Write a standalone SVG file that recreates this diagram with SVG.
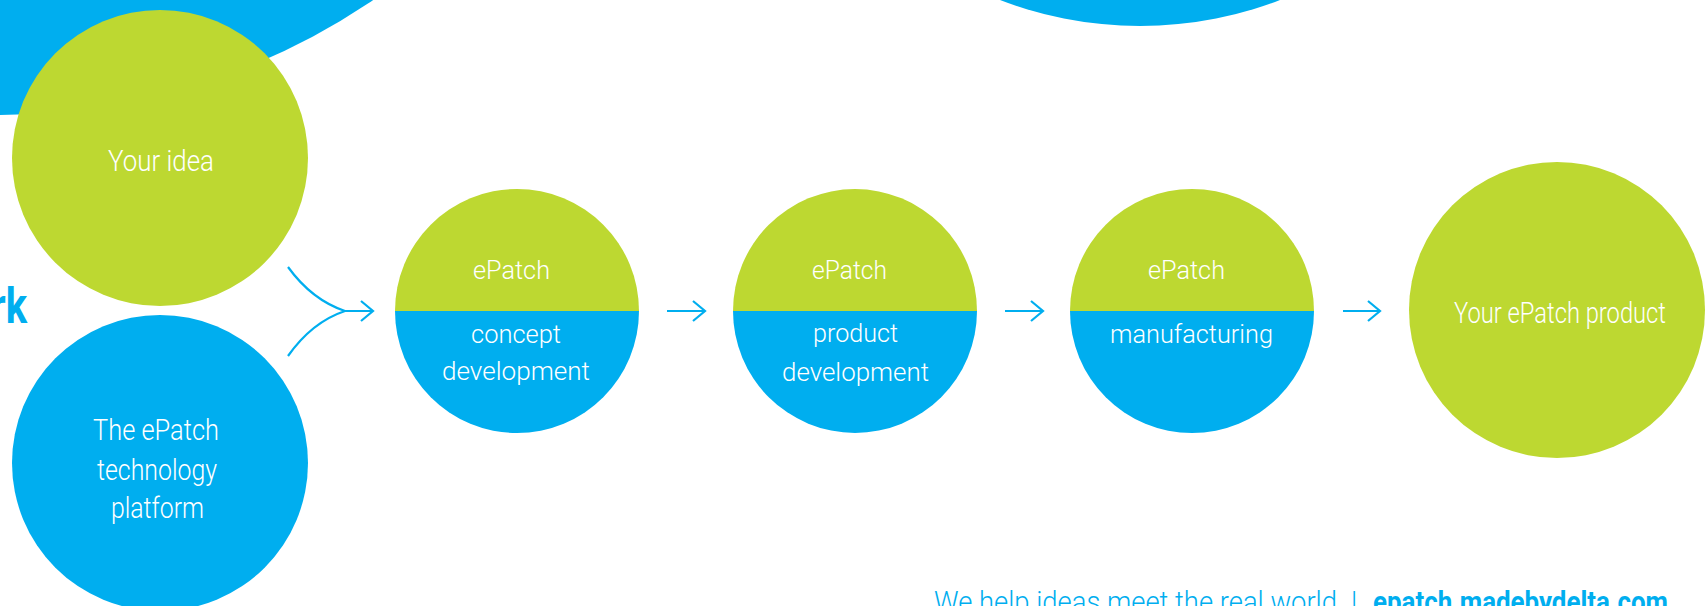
<svg xmlns="http://www.w3.org/2000/svg" width="1706" height="606" viewBox="0 0 1706 606">
<style>
.g{fill:#BDD831}
.b{fill:#00AEEF}
.t{font-family:Roboto,"Liberation Sans",sans-serif;font-weight:300;fill:#FFFFFF;text-anchor:middle}
.t26{font-size:26px}
.t30{font-size:30px}
.conn{fill:none;stroke:#00AEEF;stroke-width:2.2;stroke-linecap:butt;stroke-linejoin:miter}
.foot{font-family:Roboto,"Liberation Sans",sans-serif;font-size:30px;fill:#00AEEF}
</style>
<rect width="1706" height="606" fill="#FFFFFF"/>
<g id="bg-shapes">
<circle class="b" cx="0" cy="-548" r="663"/>
<circle class="b" cx="1140" cy="-364" r="390"/>
<text x="27" y="323" font-family="Roboto,'Liberation Sans',sans-serif" font-weight="700" font-size="50" fill="#00AEEF" text-anchor="end" textLength="36" lengthAdjust="spacingAndGlyphs">rk</text>
</g>
<g id="node-idea">
<circle class="g" cx="160" cy="158" r="148"/>
<text class="t t30" x="161" y="171" textLength="106" lengthAdjust="spacingAndGlyphs">Your idea</text>
</g>
<g id="node-platform">
<circle class="b" cx="160" cy="463" r="148"/>
<text class="t t30" x="156" y="440" textLength="126" lengthAdjust="spacingAndGlyphs">The ePatch</text>
<text class="t t30" x="157" y="480" textLength="120" lengthAdjust="spacingAndGlyphs">technology</text>
<text class="t t30" x="157.5" y="518" textLength="93" lengthAdjust="spacingAndGlyphs">platform</text>
</g>
<g id="node-concept">
<path class="g" d="M395,311 A122,122 0 0 1 639,311 Z"/>
<path class="b" d="M395,311 A122,122 0 0 0 639,311 Z"/>
<text class="t t26" x="511.5" y="279" textLength="77" lengthAdjust="spacingAndGlyphs">ePatch</text>
<text class="t t26" x="516" y="343" textLength="90" lengthAdjust="spacingAndGlyphs">concept</text>
<text class="t t26" x="516" y="380" textLength="148" lengthAdjust="spacingAndGlyphs">development</text>
</g>
<g id="node-product-dev">
<path class="g" d="M733,311 A122,122 0 0 1 977,311 Z"/>
<path class="b" d="M733,311 A122,122 0 0 0 977,311 Z"/>
<text class="t t26" x="849.5" y="279" textLength="75" lengthAdjust="spacingAndGlyphs">ePatch</text>
<text class="t t26" x="855.5" y="342" textLength="85" lengthAdjust="spacingAndGlyphs">product</text>
<text class="t t26" x="855.5" y="381" textLength="147" lengthAdjust="spacingAndGlyphs">development</text>
</g>
<g id="node-manufacturing">
<path class="g" d="M1070,311 A122,122 0 0 1 1314,311 Z"/>
<path class="b" d="M1070,311 A122,122 0 0 0 1314,311 Z"/>
<text class="t t26" x="1186.5" y="279" textLength="77" lengthAdjust="spacingAndGlyphs">ePatch</text>
<text class="t t26" x="1191.5" y="343" textLength="163" lengthAdjust="spacingAndGlyphs">manufacturing</text>
</g>
<g id="node-result">
<circle class="g" cx="1557" cy="310" r="148"/>
<text class="t t30" x="1560" y="323" textLength="212" lengthAdjust="spacingAndGlyphs">Your ePatch product</text>
</g>
<g id="connectors">
<path class="conn" d="M288,267 Q312,300 345,311 M288,356 Q312,322 345,311 M345,311 H373 M361,301 L373,311 L361,321"/>
<path class="conn" d="M667,311 H705 M693,301 L705,311 L693,321"/>
<path class="conn" d="M1005,311 H1043 M1031,301 L1043,311 L1031,321"/>
<path class="conn" d="M1343,311 H1380 M1368,301 L1380,311 L1368,321"/>
</g>
<g id="footer">
<text class="foot" x="934" y="612" font-weight="300" textLength="403" lengthAdjust="spacingAndGlyphs">We help ideas meet the real world</text>
<text class="foot" x="1354" y="612" font-weight="300" text-anchor="middle">|</text>
<text class="foot" x="1373" y="612" font-weight="700" textLength="295" lengthAdjust="spacingAndGlyphs">epatch.madebydelta.com</text>
</g>
</svg>
